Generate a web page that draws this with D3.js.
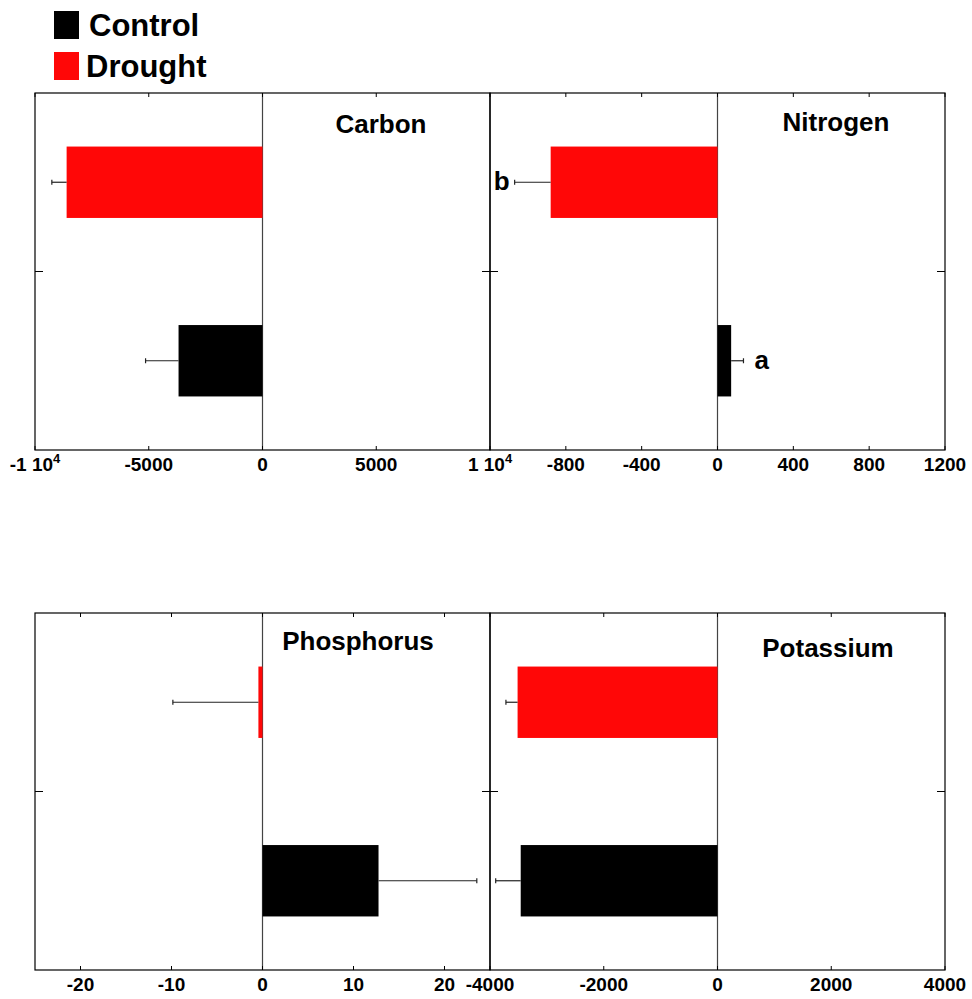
<!DOCTYPE html>
<html>
<head>
<meta charset="utf-8">
<script src="https://cdn.jsdelivr.net/npm/d3@7/dist/d3.min.js"></script>
<style>
  html, body { margin: 0; padding: 0; background: #fff; }
  svg { display: block; font-family: "Liberation Sans", Arial, sans-serif; font-weight: bold; }
</style>
</head>
<body>
<svg id="chart" width="972" height="999"></svg>
<script>
// Nutrient change under two treatments (mean ± error)
const nutrients    = ["Carbon", "Nitrogen", "Phosphorus", "Potassium"];
const treatments   = ["Control", "Drought"];
const treatColors  = ["#000000", "#ff0707"];
const controlMean  = [-3690, 72, 12.75, -3460];
const controlErr   = [1450, 65, 10.8, 440];
const droughtMean  = [-8610, -880, -0.45, -3515];
const droughtErr   = [650, 190, 9.4, 205];
const controlLetter = ["", "a", "", ""];
const droughtLetter = ["", "b", "", ""];
const xDomains = [[-10000, 10000], [-1200, 1200], [-25, 25], [-4000, 4000]];
const xTicks = [
  [-10000, -5000, 0, 5000, 10000],
  [-800, -400, 0, 400, 800, 1200],
  [-20, -10, 0, 10, 20],
  [-4000, -2000, 0, 2000, 4000]
];
const xTickLabels = [
  [["-1 10", "4"], ["-5000"], ["0"], ["5000"], ["1 10", "4"]],
  [["-800"], ["-400"], ["0"], ["400"], ["800"], ["1200"]],
  [["-20"], ["-10"], ["0"], ["10"], ["20"]],
  [["-4000"], ["-2000"], ["0"], ["2000"], ["4000"]]
];

const svg = d3.select("#chart");

// panel grid geometry
const colX = [35, 490, 945];
const rowY = [[93, 450], [613, 970]];
const titlePos = [[381, 133], [836, 131], [358, 650], [828, 657]];

// legend
const legend = svg.append("g");
treatments.forEach((t, i) => {
  const y0 = i === 0 ? 11 : 52;
  legend.append("rect").attr("x", 54).attr("y", y0).attr("width", 25).attr("height", 28)
    .attr("fill", treatColors[i]);
  legend.append("text").attr("x", i === 0 ? 89 : 86).attr("y", y0 + 25)
    .attr("font-size", 31).attr("fill", "#000").text(t);
});

nutrients.forEach((name, k) => {
  const col = k % 2, row = Math.floor(k / 2);
  const x0 = colX[col], x1 = colX[col + 1];
  const [y0, y1] = rowY[row];
  const x = d3.scaleLinear().domain(xDomains[k]).range([x0, x1]);
  const y = d3.scaleLinear().domain([0.5, 2.5]).range([y0, y1]);
  const g = svg.append("g");

  // frame
  g.append("rect").attr("x", x0).attr("y", y0).attr("width", x1 - x0).attr("height", y1 - y0)
    .attr("fill", "none").attr("stroke", "#000").attr("stroke-width", 1.2);

  // zero line
  g.append("line").attr("x1", x(0)).attr("x2", x(0)).attr("y1", y0).attr("y2", y1)
    .attr("stroke", "#444").attr("stroke-width", 1.2);

  // bars: drought at position 1, control at position 2
  const rows = [
    { pos: 1, mean: droughtMean[k], err: droughtErr[k], color: treatColors[1], letter: droughtLetter[k] },
    { pos: 2, mean: controlMean[k], err: controlErr[k], color: treatColors[0], letter: controlLetter[k] }
  ];
  const halfBar = 0.2;
  rows.forEach(r => {
    const xa = x(Math.min(0, r.mean)), xb = x(Math.max(0, r.mean));
    g.append("rect").attr("x", xa).attr("y", y(r.pos - halfBar))
      .attr("width", Math.max(xb - xa, 1)).attr("height", y(r.pos + halfBar) - y(r.pos - halfBar))
      .attr("fill", r.color);
    const dir = r.mean < 0 ? -1 : 1;
    const xe = x(r.mean + dir * r.err);
    g.append("line").attr("x1", x(r.mean)).attr("x2", xe).attr("y1", y(r.pos)).attr("y2", y(r.pos))
      .attr("stroke", "#222").attr("stroke-width", 1.2);
    g.append("line").attr("x1", xe).attr("x2", xe).attr("y1", y(r.pos) - 2.5).attr("y2", y(r.pos) + 2.5)
      .attr("stroke", "#222").attr("stroke-width", 1.2);
    if (r.letter) {
      g.append("text").attr("x", dir < 0 ? xe - 5 : xe + 11).attr("y", y(r.pos) + 8)
        .attr("text-anchor", dir < 0 ? "end" : "start")
        .attr("font-size", 26).text(r.letter);
    }
  });

  // inward ticks on top and bottom edges
  xTicks[k].forEach(v => {
    g.append("line").attr("x1", x(v)).attr("x2", x(v)).attr("y1", y0).attr("y2", y0 + 4)
      .attr("stroke", "#000");
    g.append("line").attr("x1", x(v)).attr("x2", x(v)).attr("y1", y1).attr("y2", y1 - 4)
      .attr("stroke", "#000");
  });
  // category divider ticks on left and right edges
  g.append("line").attr("x1", x0).attr("x2", x0 + 8).attr("y1", y(1.5)).attr("y2", y(1.5)).attr("stroke", "#000");
  g.append("line").attr("x1", x1).attr("x2", x1 - 8).attr("y1", y(1.5)).attr("y2", y(1.5)).attr("stroke", "#000");

  // tick labels
  xTicks[k].forEach((v, i) => {
    // the shared boundary between the top panels shows only the left panel's label
    if (k === 1 && v === xDomains[1][0]) return;
    const lab = xTickLabels[k][i];
    const t = g.append("text").attr("x", x(v)).attr("y", y1 + 21)
      .attr("text-anchor", "middle").attr("font-size", 19).attr("fill", "#000");
    t.append("tspan").text(lab[0]);
    if (lab[1]) t.append("tspan").attr("dy", -8).attr("font-size", 13).text(lab[1]);
  });

  // panel title
  g.append("text").attr("x", titlePos[k][0]).attr("y", titlePos[k][1])
    .attr("text-anchor", "middle").attr("font-size", 26).text(name);
});
</script>
</body>
</html>
